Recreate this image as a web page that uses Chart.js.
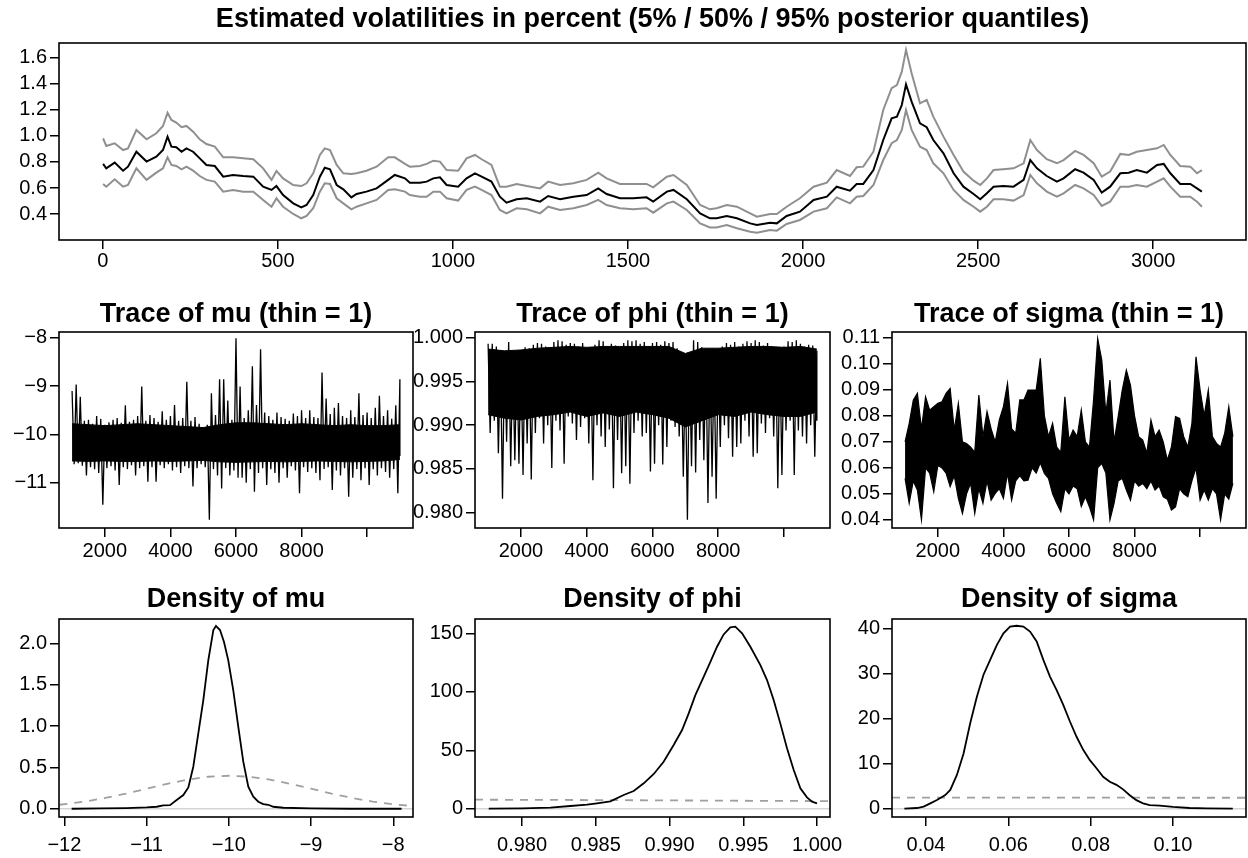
<!DOCTYPE html>
<html>
<head>
<meta charset="utf-8">
<title>Estimated volatilities</title>
<script src="https://cdn.jsdelivr.net/npm/chart.js@4.4.1/dist/chart.umd.min.js"></script>
<style>
  html, body { margin: 0; padding: 0; background: #fff; }
  #page { position: relative; width: 1248px; height: 858px; overflow: hidden; background: #fff; }
  #page canvas { position: absolute; }
</style>
</head>
<body>
<div id="page"></div>
<script>
// ---- volatility quantiles (top panel) ----
const volTime = [1,10,34,58,72,96,125,153,172,185,196,210,225,239,258,277,296,320,344,372,401,430,458,482,496,515,544,567,582,601,620,634,649,668,687,710,725,753,782,815,834,863,877,906,
  925,944,963,982,1015,1039,1063,1082,1110,1134,1153,1182,1211,1249,1272,1306,1344,1382,1415,1439,1477,1515,1553,1572,1611,1630,1668,1706,1734,1753,1782,1811,1849,1868,1906,1925,1953,1991,2030,2068,2096,2134,
  2153,2172,2201,2229,2253,2268,2282,2294,2310,2334,2353,2372,2401,2430,2458,2487,2506,2525,2544,2572,2601,2630,2649,2668,2696,2725,2744,2777,2801,2830,2853,2877,2906,2930,2953,2982,3011,3030,3049,3077,3106,3125,3139];
const volMid = [.785,.751,.795,.733,.764,.879,.803,.841,.892,.995,.918,.913,.879,.905,.879,.828,.777,.769,.687,.700,.692,.687,.610,.585,.615,.546,.482,.451,.469,.546,.687,.756,.744,.623,.590,.528,.554,.572,.597,.662,.700,.674,.641,.641,
  .649,.674,.682,.623,.610,.674,.713,.687,.649,.533,.487,.513,.521,.495,.538,.513,.533,.546,.597,.554,.521,.521,.528,.495,.572,.585,.513,.405,.367,.367,.385,.367,.328,.315,.333,.328,.385,.418,.508,.533,.610,.579,
  .631,.631,.738,.969,1.136,1.149,1.238,1.397,1.264,1.097,1.067,.969,.867,.713,.610,.554,.513,.559,.610,.615,.610,.662,.815,.751,.692,.649,.674,.744,.718,.662,.564,.610,.713,.718,.738,.718,.777,.785,.713,.631,.631,.597,.572];
const volHigh = [.982,.923,.944,.892,.905,1.046,.974,1.021,1.077,1.179,1.123,1.103,1.067,1.077,1.033,.974,.938,.918,.836,.836,.828,.821,.751,.662,.731,.674,.623,.615,.636,.713,.854,.905,.892,.777,.713,.708,.713,.733,.764,.836,.836,.785,.764,.769,
  .785,.810,.803,.738,.733,.828,.854,.821,.777,.610,.610,.631,.615,.597,.649,.623,.636,.662,.718,.674,.631,.631,.631,.605,.687,.700,.623,.469,.436,.444,.469,.456,.405,.379,.400,.400,.456,.521,.610,.641,.738,.692,
  .759,.764,.879,1.200,1.367,1.392,1.495,1.662,1.482,1.251,1.277,1.149,.995,.854,.726,.656,.623,.674,.738,.744,.751,.790,.969,.892,.821,.790,.815,.885,.854,.790,.687,.726,.862,.854,.879,.892,.905,.931,.854,.769,.764,.713,.738];
const volLow = [.631,.610,.667,.610,.623,.751,.662,.718,.751,.836,.777,.769,.744,.764,.733,.692,.662,.649,.572,.585,.572,.572,.508,.456,.521,.456,.400,.367,.385,.444,.572,.636,.631,.521,.482,.436,.456,.482,.508,.585,.590,.572,.546,.533,
  .533,.572,.572,.521,.503,.585,.610,.585,.546,.431,.405,.444,.436,.405,.456,.431,.444,.469,.508,.469,.444,.436,.444,.410,.482,.495,.431,.328,.297,.297,.315,.290,.264,.256,.277,.272,.323,.354,.418,.444,.528,.482,
  .533,.538,.623,.815,.944,.969,1.046,1.200,1.046,.918,.892,.790,.713,.585,.508,.456,.418,.456,.513,.513,.503,.546,.700,.636,.572,.533,.559,.623,.597,.546,.462,.495,.610,.610,.623,.610,.649,.674,.610,.533,.533,.495,.456];

// ---- MCMC traces: per column of 125 draws, the highest and lowest value seen ----
const traceIter = [1000,1125,1250,1375,1500,1625,1750,1875,2000,2125,2250,2375,2500,2625,2750,2875,3000,3125,3250,3375,3500,3625,3750,3875,4000,4125,4250,4375,4500,4625,4750,4875,5000,5125,5250,5375,5500,5625,5750,5875,6000,6125,6250,6375,6500,6625,6750,6875,7000,7125,7250,7375,7500,7625,7750,7875,8000,8125,8250,8375,8500,8625,8750,8875,9000,9125,9250,9375,9500,9625,9750,9875,10000,10125,10250,10375,10500,10625,10750,10875,11000];
const muHigh = [-9.10,-8.97,-9.22,-9.72,-9.70,-9.78,-9.62,-9.68,-9.80,-9.75,-9.70,-9.66,-9.76,-9.40,-9.74,-9.70,-9.62,-9.01,-9.72,-9.60,-9.66,-9.74,-9.52,-9.70,-9.62,-9.39,-9.72,-9.66,-8.91,-9.72,-9.64,-9.78,-9.85,-9.80,-9.15,-9.60,-8.86,-8.86,-9.30,-9.70,-8.01,-9.01,-9.66,-9.50,-8.59,-9.39,-8.24,-9.55,-9.62,-9.70,-9.55,-9.64,-9.68,-9.72,-9.57,-9.62,-9.50,-9.66,-9.50,-9.64,-9.66,-8.72,-9.26,-9.58,-9.45,-9.35,-9.62,-9.66,-9.50,-9.64,-9.15,-9.60,-9.55,-9.66,-9.45,-9.20,-9.62,-9.50,-9.68,-9.40,-8.86];
const muLow = [-10.62,-10.60,-10.65,-10.85,-10.68,-10.72,-10.80,-11.46,-10.70,-10.66,-10.75,-11.05,-10.68,-10.72,-10.64,-10.85,-10.70,-10.66,-10.98,-10.68,-10.98,-10.64,-10.70,-10.62,-10.75,-10.68,-10.80,-10.66,-10.70,-11.08,-10.70,-10.62,-10.68,-11.77,-10.72,-10.85,-11.12,-10.70,-10.85,-10.75,-10.90,-10.90,-11.00,-10.72,-11.19,-10.80,-10.70,-11.05,-10.72,-10.80,-11.00,-10.70,-10.90,-10.66,-10.75,-11.22,-10.68,-10.78,-10.70,-10.80,-10.95,-10.72,-10.68,-11.15,-10.75,-10.85,-10.70,-11.29,-10.90,-10.72,-10.95,-10.70,-11.05,-10.72,-10.85,-10.70,-10.78,-10.90,-10.72,-11.22,-10.45];
const phiHigh = [.9993,.9993,.9990,.9982,.9984,.9995,.9978,.9980,.9979,.9989,.9988,.9992,.9994,.9993,.9990,.9986,.9995,.9997,.9996,.9992,.9994,.9993,.9990,.9994,.9988,.9986,.9992,.9997,.9996,.9990,.9993,.9991,.9987,.9994,.9997,.9996,.9997,.9993,.9995,.9990,.9994,.9995,.9992,.9996,.9994,.9995,.9988,.9975,.9963,.9978,.9997,.9995,.9989,.9986,.9980,.9973,.9976,.9990,.9994,.9992,.9995,.9990,.9993,.9996,.9994,.9997,.9995,.9991,.9994,.9990,.9986,.9983,.9990,.9996,.9995,.9997,.9993,.9990,.9992,.9991,.9985];
const phiLow = [.9891,.9905,.9868,.9816,.9881,.9853,.9860,.9856,.9843,.9879,.9838,.9891,.9908,.9879,.9900,.9851,.9905,.9894,.9856,.9910,.9902,.9883,.9898,.9908,.9879,.9837,.9900,.9887,.9875,.9895,.9828,.9883,.9845,.9853,.9833,.9891,.9905,.9887,.9891,.9847,.9856,.9900,.9855,.9875,.9905,.9898,.9887,.9841,.9792,.9853,.9846,.9883,.9860,.9811,.9841,.9816,.9875,.9900,.9885,.9864,.9875,.9879,.9905,.9887,.9864,.9868,.9902,.9891,.9908,.9887,.9828,.9843,.9894,.9905,.9843,.9894,.9887,.9879,.9900,.9864,.9905];
const sigmaHigh = [.070,.077,.086,.0886,.075,.0873,.0822,.0835,.0848,.0854,.0886,.0905,.0745,.0848,.070,.0694,.068,.066,.0880,.072,.0816,.075,.070,.0784,.0835,.0925,.075,.0733,.0861,.0861,.0899,.0899,.0899,.1021,.080,.072,.0771,.068,.066,.0873,.0707,.0745,.072,.0822,.070,.068,.0861,.1097,.1014,.0809,.0937,.070,.0797,.0899,.0976,.0918,.080,.072,.0707,.0656,.0784,.072,.0745,.070,.0630,.068,.0797,.0790,.072,.068,.0771,.1027,.0899,.080,.0899,.072,.0694,.068,.0733,.0835,.072];
const sigmaLow = [.056,.0464,.055,.0515,.040,.060,.058,.0508,.061,.060,.058,.0528,.057,.0483,.0425,.050,.0541,.0425,.052,.0464,.055,.0476,.0502,.052,.0483,.058,.0476,.055,.057,.055,.0553,.060,.058,.062,.0579,.056,.050,.0464,.0432,.052,.050,.053,.052,.0451,.0489,.045,.040,.060,.0617,.058,.040,.0464,.055,.056,.0515,.0476,.055,.053,.054,.052,.055,.0515,.053,.0489,.048,.0438,.045,.052,.050,.0489,.055,.060,.0476,.0515,.0476,.052,.050,.040,.050,.048,.0541];

// ---- MCMC traces: edges of the solid core of the band, every 500 draws ----
const coreIter = [1000,1500,2000,2500,3000,3500,4000,4500,5000,5500,6000,6500,7000,7500,8000,8500,9000,9500,10000,10500,11000];
const muCoreHigh = [-9.78,-9.80,-9.82,-9.80,-9.78,-9.80,-9.82,-9.84,-9.86,-9.80,-9.76,-9.76,-9.78,-9.80,-9.78,-9.80,-9.82,-9.80,-9.82,-9.82,-9.80];
const muCoreLow = [-10.55,-10.56,-10.55,-10.56,-10.56,-10.55,-10.56,-10.55,-10.54,-10.57,-10.58,-10.57,-10.56,-10.57,-10.56,-10.55,-10.56,-10.57,-10.56,-10.55,-10.52];
const phiCoreHigh = [.9987,.9985,.9986,.9988,.9989,.9990,.9989,.9990,.9990,.9990,.9990,.9990,.9982,.9988,.9988,.9989,.9990,.9990,.9989,.9990,.9987];
const phiCoreLow = [.9912,.9908,.9906,.9910,.9912,.9915,.9910,.9914,.9910,.9915,.9912,.9908,.9898,.9905,.9912,.9910,.9915,.9912,.9910,.9910,.9915];

// ---- posterior densities (solid) and priors (dashed) ----
const muDensX = [-11.911,-11.566,-11.242,-10.999,-10.877,-10.796,-10.715,-10.634,-10.553,-10.492,-10.432,-10.371,-10.310,-10.249,-10.188,-10.156,-10.107,-10.059,-10.007,-9.946,-9.885,-9.824,-9.763,-9.702,-9.641,-9.581,-9.520,-9.459,-9.337,-8.997,-8.527,-7.899];
const muDensY = [0,.004,.008,.016,.024,.040,.044,.105,.165,.258,.508,.911,1.315,1.798,2.161,2.210,2.161,2.020,1.798,1.435,.992,.569,.266,.145,.085,.056,.048,.024,.012,.004,0,0];
const muPriorX = [-12.06,-11.75,-11.5,-11.25,-11,-10.75,-10.5,-10.25,-10,-9.75,-9.5,-9.25,-9,-8.75,-8.5,-8.25,-8,-7.76];
const muPriorY = [.048,.086,.130,.183,.242,.301,.352,.387,.399,.387,.352,.301,.242,.183,.130,.086,.054,.032];
const phiDensX = [0.97774,0.98000,0.98192,0.98328,0.98441,0.98508,0.98599,0.98689,0.98757,0.98825,0.98893,0.98960,0.99028,0.99085,0.99130,0.99175,0.99232,0.99277,0.99322,0.99367,0.99412,0.99446,0.99492,0.99548,0.99616,0.99661,0.99706,0.99751,0.99797,0.99842,0.99887,0.99932,0.99966,1.00000];
const phiDensY = [0,0.3,0.9,2.3,3.4,4.6,6.3,11.7,15.1,21.7,29.7,40.2,54.5,67.3,81.6,97.2,112.9,125.7,138.6,149.1,155.1,155.7,150.0,138.6,122.9,110.1,93.0,73.0,51.6,33.1,17.4,9.7,6.0,4.6];
const phiPriorX = [0.97681,0.985,0.990,0.995,1.00088];
const phiPriorY = [7.7,7.4,7.1,6.8,6.5];
const sigmaDensX = [0.03475,0.03782,0.03943,0.04105,0.04266,0.04468,0.04590,0.04751,0.04913,0.05074,0.05236,0.05397,0.05559,0.05720,0.05882,0.06043,0.06205,0.06366,0.06528,0.06689,0.06851,0.07012,0.07174,0.07335,0.07497,0.07658,0.07820,0.07981,0.08143,0.08304,0.08466,0.08627,0.08789,0.08950,0.09112,0.09273,0.09435,0.09677,0.10000,0.10404,0.10808,0.11454];
const sigmaDensY = [0,0.15,0.45,1.19,1.93,3.04,4.16,7.50,12.3,19.0,24.9,29.8,33.1,36.4,39.0,40.5,40.7,40.5,39.4,37.2,33.1,29.4,26.4,23.1,19.4,16.0,13.1,10.8,9.0,7.1,6.0,5.3,4.3,3.0,1.9,1.2,0.8,0.7,0.4,0.15,0.07,0];
const sigmaPriorX = [0.03174,0.06,0.09,0.11775];
const sigmaPriorY = [2.45,2.45,2.44,2.43];

// ---- tick values and labels ----
const volXTicks = [0,500,1000,1500,2000,2500,3000];
const volXLabels = ['0','500','1000','1500','2000','2500','3000'];
const volYTicks = [0.4,0.6,0.8,1.0,1.2,1.4,1.6];
const volYLabels = ['0.4','0.6','0.8','1.0','1.2','1.4','1.6'];
const traceXTicks = [2000,4000,6000,8000,10000];
const traceXLabels = ['2000','4000','6000','8000',''];
const muTraceTicks = [-11,-10,-9,-8];
const muTraceLabels = ['\u221211','\u221210','\u22129','\u22128'];
const phiTraceTicks = [0.980,0.985,0.990,0.995,1.000];
const phiTraceLabels = ['0.980','0.985','0.990','0.995','1.000'];
const sigmaTraceTicks = [0.04,0.05,0.06,0.07,0.08,0.09,0.10,0.11];
const sigmaTraceLabels = ['0.04','0.05','0.06','0.07','0.08','0.09','0.10','0.11'];
const muDensXTicks = [-12,-11,-10,-9,-8];
const muDensXLabels = ['\u221212','\u221211','\u221210','\u22129','\u22128'];
const muDensYTicks = [0,0.5,1.0,1.5,2.0];
const muDensYLabels = ['0.0','0.5','1.0','1.5','2.0'];
const phiDensXTicks = [0.980,0.985,0.990,0.995,1.000];
const phiDensXLabels = ['0.980','0.985','0.990','0.995','1.000'];
const phiDensYTicks = [0,50,100,150];
const phiDensYLabels = ['0','50','100','150'];
const sigmaDensXTicks = [0.04,0.06,0.08,0.10];
const sigmaDensXLabels = ['0.04','0.06','0.08','0.10'];
const sigmaDensYTicks = [0,10,20,30,40];
const sigmaDensYLabels = ['0','10','20','30','40'];

// ---- layout ----
const FONT = '"Liberation Sans", Arial, Helvetica, sans-serif';
const tickFont = { family: FONT, size: 20 };
const padL = 80, padT = 50, padR = 40, padB = 50;
const GRAY = '#8f8f8f';
const PRIOR_GRAY = '#a0a0a0';
const ZERO_GRAY = '#d4d4d4';

// box around the plot region plus a bold title centred above it
const rFrame = {
  id: 'rFrame',
  afterDraw(chart, args, opts) {
    const a = chart.chartArea, c = chart.ctx;
    c.save();
    c.strokeStyle = '#000';
    c.lineWidth = 1.6;
    c.strokeRect(a.left, a.top, a.right - a.left, a.bottom - a.top);
    if (opts.title) {
      c.fillStyle = '#000';
      c.font = 'bold 27px ' + FONT;
      c.textAlign = 'center';
      c.textBaseline = 'alphabetic';
      c.fillText(opts.title, (a.left + a.right) / 2, a.top - opts.gap);
    }
    c.restore();
  }
};
Chart.register(rFrame);

function pts(xs, ys) {
  return xs.map((x, i) => ({ x: x, y: ys[i] }));
}

// alternate the high and low value of every column, like the rapid swings of a long chain
function zigzag(iters, hi, lo) {
  const out = [];
  iters.forEach((it, i) => {
    const next = i < iters.length - 1 ? iters[i + 1] : it;
    out.push({ x: it, y: hi[i] });
    out.push({ x: (it + next) / 2, y: lo[i] });
  });
  return out;
}

function axis(dir, a, zeroLine, pad) {
  return {
    type: 'linear',
    position: dir === 'x' ? 'bottom' : 'left',
    min: a.min,
    max: a.max,
    grid: {
      drawOnChartArea: !!zeroLine,
      drawTicks: true,
      tickLength: 9,
      color: zeroLine ? (ctx => (ctx.tick && ctx.tick.value === 0 ? ZERO_GRAY : 'rgba(0,0,0,0)')) : '#000',
      tickColor: '#000',
      lineWidth: 1.5,
      tickWidth: 1.5
    },
    border: { display: false },
    ticks: {
      color: '#000',
      font: tickFont,
      padding: pad,
      autoSkip: false,
      maxRotation: 0,
      minRotation: 0,
      callback: (v, i) => a.labels[i]
    },
    afterBuildTicks: sc => { sc.ticks = a.ticks.map(v => ({ value: v })); },
    afterFit: sc => {
      if (dir === 'x') sc.height = padB; else sc.width = padL;
      sc.paddingLeft = 0; sc.paddingRight = 0; sc.paddingTop = 0; sc.paddingBottom = 0;
    }
  };
}

function panel(box, p) {
  const cv = document.createElement('canvas');
  const w = box.right - box.left + padL + padR;
  const h = box.bottom - box.top + padT + padB;
  cv.width = w; cv.height = h;
  cv.style.width = w + 'px'; cv.style.height = h + 'px';
  cv.style.left = (box.left - padL) + 'px';
  cv.style.top = (box.top - padT) + 'px';
  document.getElementById('page').appendChild(cv);
  return new Chart(cv.getContext('2d'), {
    type: 'scatter',
    data: { datasets: p.datasets },
    options: {
      responsive: false,
      animation: false,
      devicePixelRatio: 1,
      events: [],
      layout: { padding: { left: 0, top: padT, right: padR, bottom: 0 } },
      plugins: {
        legend: { display: false },
        tooltip: { enabled: false },
        filler: { propagate: false },
        rFrame: { title: p.title, gap: p.gap }
      },
      scales: { x: axis('x', p.x, false, p.xPad), y: axis('y', p.y, p.zero, 3) }
    }
  });
}

function line(data, color, width, dash) {
  return { data: data, showLine: true, borderColor: color, borderWidth: width, borderDash: dash || [],
    pointRadius: 0, fill: false, tension: 0 };
}

// a line filled down to the dataset that follows it
function filledTo(data, width) {
  const d = line(data, '#000', width);
  d.fill = '+1';
  d.backgroundColor = '#000';
  return d;
}

// thin swings out to the column extremes, over a solid filled core
function coreBand(hi, lo, coreHi, coreLo) {
  return [
    line(zigzag(traceIter, hi, lo), '#000', 1.3),
    filledTo(pts(coreIter, coreHi), 1),
    line(pts(coreIter, coreLo), '#000', 1)
  ];
}

// the whole column range filled, for the slowly mixing sigma chain
function envelopeBand(hi, lo) {
  return [
    filledTo(pts(traceIter, hi), 1.2),
    line(pts(traceIter, lo), '#000', 1.2)
  ];
}

// top: volatility quantiles
panel({ left: 59, top: 43, right: 1246, bottom: 240 }, {
  title: 'Estimated volatilities in percent (5% / 50% / 95% posterior quantiles)', gap: 16, xPad: 0,
  x: { min: -125, max: 3265, ticks: volXTicks, labels: volXLabels },
  y: { min: 0.2, max: 1.715, ticks: volYTicks, labels: volYLabels },
  datasets: [
    line(pts(volTime, volMid), '#000', 2),
    line(pts(volTime, volHigh), GRAY, 2),
    line(pts(volTime, volLow), GRAY, 2)
  ]
});

// middle: traces
const traceX = { min: 601, max: 11400, ticks: traceXTicks, labels: traceXLabels };
panel({ left: 59, top: 332, right: 413, bottom: 528 }, {
  title: 'Trace of mu (thin = 1)', gap: 10, xPad: 2, x: traceX,
  y: { min: -11.94, max: -7.88, ticks: muTraceTicks, labels: muTraceLabels },
  datasets: coreBand(muHigh, muLow, muCoreHigh, muCoreLow)
});
panel({ left: 475, top: 332, right: 830, bottom: 528 }, {
  title: 'Trace of phi (thin = 1)', gap: 10, xPad: 2, x: traceX,
  y: { min: 0.97825, max: 1.00065, ticks: phiTraceTicks, labels: phiTraceLabels },
  datasets: coreBand(phiHigh, phiLow, phiCoreHigh, phiCoreLow)
});
panel({ left: 892, top: 332, right: 1246, bottom: 528 }, {
  title: 'Trace of sigma (thin = 1)', gap: 10, xPad: 2, x: traceX,
  y: { min: 0.0369, max: 0.1122, ticks: sigmaTraceTicks, labels: sigmaTraceLabels },
  datasets: envelopeBand(sigmaHigh, sigmaLow)
});

// bottom: densities
panel({ left: 59, top: 619, right: 413, bottom: 817 }, {
  title: 'Density of mu', gap: 12, zero: true, xPad: 7,
  x: { min: -12.065, max: -7.76, ticks: muDensXTicks, labels: muDensXLabels },
  y: { min: -0.1, max: 2.295, ticks: muDensYTicks, labels: muDensYLabels },
  datasets: [
    line(pts(muDensX, muDensY), '#000', 1.8),
    line(pts(muPriorX, muPriorY), PRIOR_GRAY, 1.8, [8, 7])
  ]
});
panel({ left: 475, top: 619, right: 830, bottom: 817 }, {
  title: 'Density of phi', gap: 12, zero: true, xPad: 7,
  x: { min: 0.97681, max: 1.00088, ticks: phiDensXTicks, labels: phiDensXLabels },
  y: { min: -7.1, max: 162.3, ticks: phiDensYTicks, labels: phiDensYLabels },
  datasets: [
    line(pts(phiDensX, phiDensY), '#000', 1.8),
    line(pts(phiPriorX, phiPriorY), PRIOR_GRAY, 1.8, [8, 7])
  ]
});
panel({ left: 892, top: 619, right: 1246, bottom: 817 }, {
  title: 'Density of sigma', gap: 12, zero: true, xPad: 7,
  x: { min: 0.03174, max: 0.11775, ticks: sigmaDensXTicks, labels: sigmaDensXLabels },
  y: { min: -1.85, max: 42.2, ticks: sigmaDensYTicks, labels: sigmaDensYLabels },
  datasets: [
    line(pts(sigmaDensX, sigmaDensY), '#000', 1.8),
    line(pts(sigmaPriorX, sigmaPriorY), PRIOR_GRAY, 1.8, [8, 7])
  ]
});
</script>
</body>
</html>
